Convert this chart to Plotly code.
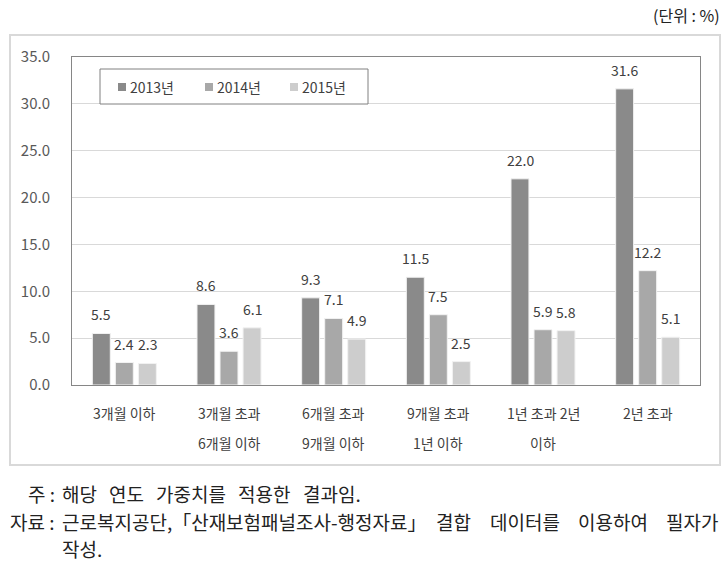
import plotly.graph_objects as go

categories = ["3개월 이하", "3개월 초과<br>6개월 이하", "6개월 초과<br>9개월 이하",
              "9개월 초과<br>1년 이하", "1년 초과 2년<br>이하", "2년 초과"]
series_names = ["2013년", "2014년", "2015년"]
values_2013 = [5.5, 8.6, 9.3, 11.5, 22.0, 31.6]
values_2014 = [2.4, 3.6, 7.1, 7.5, 5.9, 12.2]
values_2015 = [2.3, 6.1, 4.9, 2.5, 5.8, 5.1]
y_ticks = [0, 5, 10, 15, 20, 25, 30, 35]
unit_label = "(단위 : %)"
note_prefix = "주 :"
note_words = ["해당", "연도", "가중치를", "적용한", "결과임."]
source_prefix = "자료 :"
source_words = ["근로복지공단,「산재보험패널조사-행정자료」", "결합", "데이터를", "이용하여", "필자가"]
source_line2 = "작성."

# layout (justified word positions, px)
note_word_x = [60, 107, 154, 236, 301]
source_word_x = [60, 434, 488, 576, 664]

colors = ["#8a8a8a", "#a8a8a8", "#cdcdcd"]
FONT = "Noto Sans CJK KR, Malgun Gothic, sans-serif"

W, H = 728, 579
L, R, T, B = 72, 700, 57, 385


def px(x):
    return (x - L) / (R - L)


def py(y):
    return (B - y) / (B - T)


fig = go.Figure()
all_vals = [values_2013, values_2014, values_2015]
for name, vals, c in zip(series_names, all_vals, colors):
    fig.add_trace(go.Bar(x=list(range(len(categories))), y=vals, name=name,
                         showlegend=False,
                         marker=dict(color=c, line=dict(color="#f2f2f2", width=1))))

annotations = []
offsets = [-23, 0, 23]
for vals, off in zip(all_vals, offsets):
    for i, v in enumerate(vals):
        annotations.append(dict(x=i, y=v, xref="x", yref="y", text=f"{v:.1f}",
                                showarrow=False, xshift=off, yshift=19,
                                font=dict(family=FONT, size=14, color="#404040"),
                                xanchor="center", yanchor="middle"))

for i, cat in enumerate(categories):
    lines = cat.split("<br>")
    for k, line in enumerate(lines):
        annotations.append(dict(x=i, y=py(413 + 30 * k), xref="x", yref="paper",
                                text=line, showarrow=False,
                                font=dict(family=FONT, size=14, color="#404040"),
                                xanchor="center", yanchor="middle"))

# manual legend
shapes = [dict(type="rect", xref="paper", yref="paper",
               x0=px(10), x1=px(720), y0=py(465), y1=py(35),
               line=dict(color="#d9d9d9", width=2), layer="below"),
          dict(type="rect", xref="paper", yref="paper",
               x0=px(100), x1=px(368), y0=py(104), y1=py(69),
               line=dict(color="#808080", width=1), fillcolor="white", layer="above")]
leg_x = [118, 205, 290]
for name, c, lx in zip(series_names, colors, leg_x):
    shapes.append(dict(type="rect", xref="paper", yref="paper",
                       x0=px(lx), x1=px(lx + 8), y0=py(91), y1=py(83),
                       line=dict(width=0), fillcolor=c, layer="above"))
    annotations.append(dict(x=px(lx + 10), y=py(87), xref="paper", yref="paper",
                            text=name, showarrow=False, xanchor="left", yanchor="middle",
                            font=dict(family=FONT, size=14, color="#404040")))

txt_font = dict(family=FONT, size=19, color="#222222")


def txt(x, y, s, anchor="left", font=txt_font):
    return dict(x=px(x), y=py(y), xref="paper", yref="paper", text=s,
                showarrow=False, xanchor=anchor, yanchor="middle", font=font)


annotations.append(txt(722, 15, unit_label, "right",
                       dict(family=FONT, size=16, color="#222222")))
annotations.append(txt(57, 493, note_prefix, "right"))
for w, x in zip(note_words, note_word_x):
    annotations.append(txt(x, 493, w))
annotations.append(txt(57, 521, source_prefix, "right"))
for w, x in zip(source_words, source_word_x):
    annotations.append(txt(x, 521, w))
annotations.append(txt(60, 548, source_line2))

fig.update_layout(
    width=W, height=H,
    margin=dict(l=L, r=W - R, t=T, b=H - B),
    paper_bgcolor="white", plot_bgcolor="white",
    barmode="group", bargap=0.34, bargroupgap=0.22,
    font=dict(family=FONT, size=14, color="#404040"),
    showlegend=False,
    annotations=annotations,
    shapes=shapes,
)
fig.update_xaxes(range=[-0.5, len(categories) - 0.5], showticklabels=False,
                 showline=True, mirror=True, linecolor="#868686", linewidth=1,
                 showgrid=False, zeroline=False, ticks="")
fig.update_yaxes(range=[0, 35], tickvals=y_ticks, ticktext=[f"{t:.1f}" for t in y_ticks],
                 showgrid=True, gridcolor="#d9d9d9", gridwidth=1,
                 showline=True, mirror=True, linecolor="#868686", linewidth=1,
                 zeroline=False, ticks="", ticklabelstandoff=18,
                 tickfont=dict(family=FONT, size=15, color="#595959"))

fig.write_html("out.html")
